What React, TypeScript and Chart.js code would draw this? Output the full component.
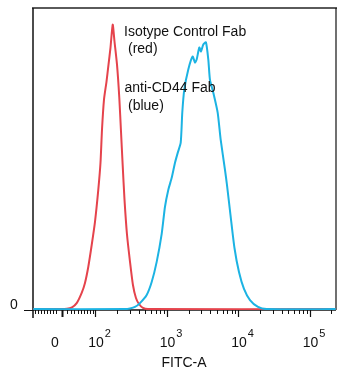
import React, { useEffect, useRef } from "react";
import { Chart, registerables } from "chart.js";

Chart.register(...registerables);

// x values are display positions on the biexponential axis, in decades (10^k -> k)
const ZERO_POS = 1.531;
const X_MIN = 1.126;
const X_MAX = 5.364;

const majorTickValues = [ZERO_POS, 2, 3, 4, 5];
const majorTickExponents = ["", "2", "3", "4", "5"];
const linearMinorTicks = [
  1.154, 1.196, 1.238, 1.28, 1.322, 1.364, 1.406, 1.448,
  1.601, 1.657, 1.706, 1.755, 1.804, 1.846, 1.888, 1.93, 1.965,
];
const logMinorMultipliers = [2, 3, 4, 5, 6, 7, 8, 9];
const logDecades = [2, 3, 4, 5];

const redX = [
  1.13, 1.503, 1.601, 1.671, 1.737, 1.807, 1.853, 1.899, 1.947, 1.993, 2.039,
  2.07, 2.091, 2.119, 2.154, 2.182, 2.21, 2.241, 2.266, 2.301, 2.333, 2.357,
  2.38, 2.406, 2.441, 2.483, 2.524, 2.566, 2.608, 2.664, 2.734, 5.36,
];
const redY = [
  0.3, 0.3, 0.4, 0.9, 2.3, 5.7, 9.0, 14.3, 21.6, 29.3, 39.9,
  48.9, 59.9, 69.9, 75.9, 81.5, 87.2, 94.8, 89.2, 81.5, 70.5, 59.2,
  48.3, 36.6, 25.0, 16.0, 8.3, 4.0, 2.0, 0.7, 0.3, 0.3,
];

const blueX = [
  1.13, 2.413, 2.483, 2.552, 2.622, 2.716, 2.786, 2.856, 2.926, 2.972, 3.018,
  3.066, 3.112, 3.15, 3.192, 3.214, 3.242, 3.298, 3.359, 3.392, 3.415, 3.452,
  3.476, 3.508, 3.545, 3.578, 3.601, 3.648, 3.709, 3.751, 3.811, 3.839, 3.888,
  3.944, 4.007, 4.077, 4.161, 4.273, 4.394, 5.36,
];
const blueY = [
  0.3, 0.3, 0.5, 1.0, 2.3, 5.0, 9.3, 16.0, 25.3, 34.3, 39.9,
  43.9, 48.9, 52.2, 55.6, 65.6, 73.2, 79.9, 84.2, 82.2, 83.2, 87.2,
  85.9, 88.2, 88.9, 83.2, 76.5, 72.2, 65.6, 56.6, 46.6, 41.6, 31.6,
  20.6, 12.6, 7.0, 3.3, 1.0, 0.3, 0.3,
];

const annotations = [
  { text: "Isotype Control Fab", x: 124, y: 35.5 },
  { text: "(red)", x: 128, y: 53 },
  { text: "anti-CD44 Fab", x: 124.5, y: 92 },
  { text: "(blue)", x: 128, y: 109.5 },
];

const FONT = '"Liberation Sans", Arial, sans-serif';
const RED = "#e5434c";
const BLUE = "#1cb3e3";

const axesPlugin = {
  id: "flowAxes",
  beforeDatasetsDraw(chart: any) {
    const { ctx, chartArea: a, scales } = chart;
    const xs = scales.x;
    ctx.save();
    // top border
    ctx.strokeStyle = "#5a5a5a";
    ctx.lineWidth = 2;
    ctx.beginPath();
    ctx.moveTo(a.left - 1, a.top - 1);
    ctx.lineTo(a.right + 1, a.top - 1);
    ctx.stroke();
    // left and right borders
    ctx.strokeStyle = "#111";
    ctx.lineWidth = 1.5;
    ctx.beginPath();
    ctx.moveTo(a.left, a.top - 1);
    ctx.lineTo(a.left, a.bottom + 8);
    ctx.stroke();
    ctx.lineWidth = 1.2;
    ctx.beginPath();
    ctx.moveTo(a.right, a.top - 1);
    ctx.lineTo(a.right, a.bottom);
    ctx.stroke();
    // bottom axis
    ctx.lineWidth = 1.5;
    ctx.beginPath();
    ctx.moveTo(a.left, a.bottom);
    ctx.lineTo(a.right, a.bottom);
    ctx.stroke();
    // y tick at 0
    const y0 = scales.y.getPixelForValue(0);
    ctx.lineWidth = 1;
    ctx.beginPath();
    ctx.moveTo(a.left - 9, y0 + 0.5);
    ctx.lineTo(a.left, y0 + 0.5);
    ctx.stroke();
    // minor ticks
    const minors: number[] = [...linearMinorTicks];
    logDecades.forEach((d) =>
      logMinorMultipliers.forEach((m) => minors.push(d + Math.log10(m)))
    );
    ctx.lineWidth = 1;
    minors.forEach((v) => {
      if (v < X_MIN || v > X_MAX) return;
      const px = Math.round(xs.getPixelForValue(v)) + 0.5;
      ctx.beginPath();
      ctx.moveTo(px, a.bottom);
      ctx.lineTo(px, a.bottom + 4);
      ctx.stroke();
    });
    majorTickValues.forEach((v, i) => {
      const px = Math.round(xs.getPixelForValue(v)) + 0.5;
      ctx.lineWidth = i === 0 ? 2 : 1.2;
      ctx.beginPath();
      ctx.moveTo(px, a.bottom);
      ctx.lineTo(px, a.bottom + 7);
      ctx.stroke();
    });
    ctx.restore();
  },
  afterDraw(chart: any) {
    const { ctx, chartArea: a, scales } = chart;
    const xs = scales.x;
    ctx.save();
    ctx.fillStyle = "#111";
    ctx.textBaseline = "alphabetic";
    // x tick labels
    majorTickValues.forEach((v, i) => {
      const px = xs.getPixelForValue(v);
      ctx.font = `14px ${FONT}`;
      if (i === 0) {
        ctx.textAlign = "center";
        ctx.fillText("0", px - 7, 347);
        return;
      }
      ctx.textAlign = "center";
      ctx.fillText("10", px + 0.5, 347);
      const w = ctx.measureText("10").width;
      ctx.font = `11px ${FONT}`;
      ctx.textAlign = "left";
      ctx.fillText(majorTickExponents[i], px + 0.5 + w / 2 + 1, 337);
    });
    // axis title
    ctx.font = `14px ${FONT}`;
    ctx.textAlign = "center";
    ctx.fillText("FITC-A", (a.left + a.right) / 2 - 0.5, 367);
    // y label
    ctx.fillText("0", 14, 309);
    // annotations
    ctx.textAlign = "left";
    annotations.forEach((t) => ctx.fillText(t.text, t.x, t.y));
    ctx.restore();
  },
};

export default function App() {
  const ref = useRef<HTMLCanvasElement>(null);
  useEffect(() => {
    if (!ref.current) return;
    const chart = new Chart(ref.current, {
      type: "line",
      data: {
        datasets: [
          {
            label: "anti-CD44 Fab",
            data: blueX.map((x, i) => ({ x, y: blueY[i] })),
            borderColor: BLUE,
            borderWidth: 2,
            pointRadius: 0,
            tension: 0.2,
            fill: false,
            order: 0,
          },
          {
            label: "Isotype Control Fab",
            data: redX.map((x, i) => ({ x, y: redY[i] })),
            borderColor: RED,
            borderWidth: 2,
            pointRadius: 0,
            tension: 0.2,
            fill: false,
            order: 1,
          },
        ],
      },
      options: {
        animation: false,
        responsive: false,
        maintainAspectRatio: false,
        layout: { padding: { left: 33, right: 14, top: 9, bottom: 64 } },
        plugins: {
          legend: { display: false },
          tooltip: { enabled: false },
        },
        scales: {
          x: { type: "linear", min: X_MIN, max: X_MAX, display: false },
          y: { type: "linear", min: 0, max: 100, display: false },
        },
      },
      plugins: [axesPlugin],
    });
    return () => chart.destroy();
  }, []);
  return (
    <div style={{ position: "fixed", left: 0, top: 0, width: 350, height: 374, background: "#fff" }}>
      <canvas ref={ref} width={350} height={374} style={{ display: "block" }} />
    </div>
  );
}
